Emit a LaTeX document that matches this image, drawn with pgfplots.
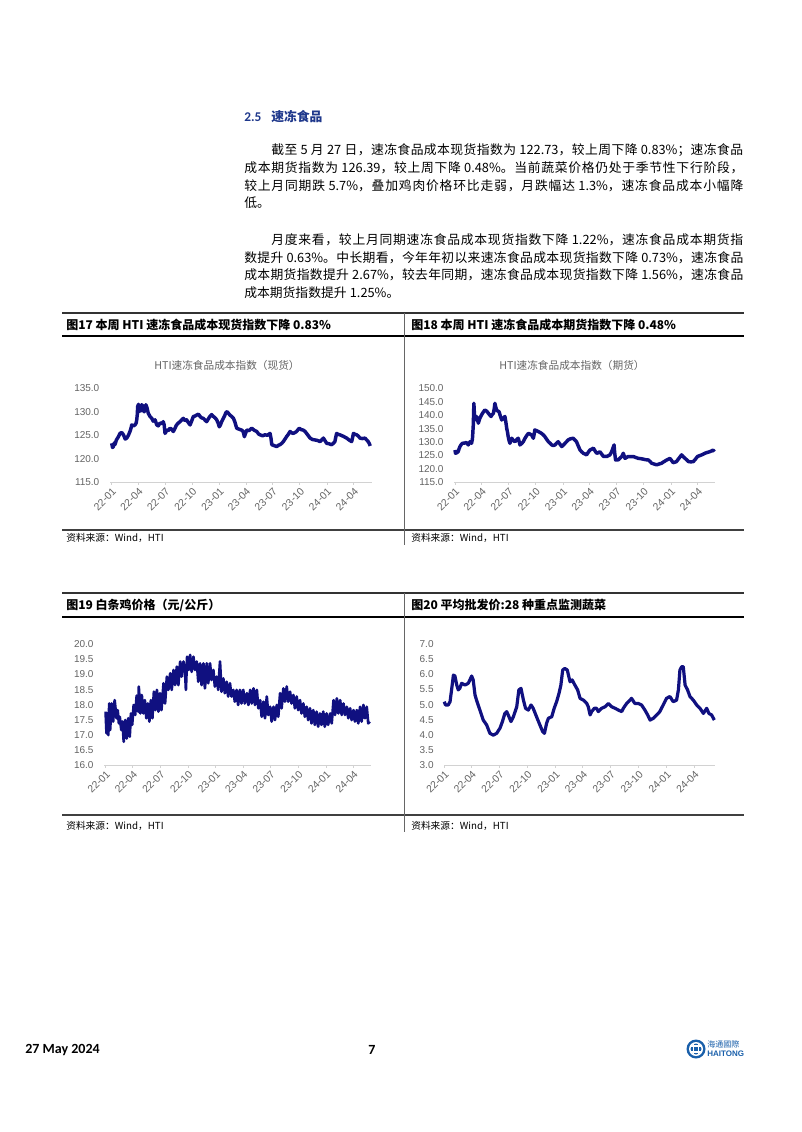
\documentclass[border=0pt]{standalone}
\usepackage{fontspec}
\usepackage{pgfplots}
\pgfplotsset{compat=1.18}
\setmainfont{Carlito}
\newfontfamily\cjk{Noto Sans CJK SC}
\newfontfamily\ticksf{Liberation Sans}
\newcount\cc
\cc="4E00
\loop \XeTeXcharclass\cc=1 \advance\cc 1 \ifnum\cc<"A000 \repeat
\XeTeXcharclass"FF0C=3 \XeTeXcharclass"3002=3 \XeTeXcharclass"FF1B=3
\XeTeXcharclass"FF1A=3 \XeTeXcharclass"FF09=3 \XeTeXcharclass"3001=3
\XeTeXcharclass"FF08=2
\XeTeXinterchartokenstate=1
\XeTeXinterchartoks 1 1 = {\hskip0pt plus 0.1em\relax}
\XeTeXinterchartoks 1 3 = {\hskip0pt plus 0.1em\relax}
\XeTeXinterchartoks 3 1 = {\hskip0pt plus 0.1em\relax}
\XeTeXinterchartoks 1 2 = {\hskip0pt plus 0.1em\relax}
\XeTeXinterchartoks 2 1 = {\hskip0pt plus 0.1em\relax}
\definecolor{navy}{RGB}{16,16,128}
\definecolor{tickgray}{RGB}{100,100,100}
\definecolor{axgray}{RGB}{210,210,210}
\definecolor{headblue}{RGB}{31,56,140}
\definecolor{logoblue}{RGB}{25,95,170}
\pgfplotsset{
  htiaxis/.style={
    scale only axis,
    axis lines*=left,
    y axis line style={draw=none},
    x axis line style={draw=axgray, line width=0.7pt},
    ytick style={draw=none},
    xtick style={draw=axgray, line width=0.5pt},
    tick align=outside,
    major tick length=2pt,
    xtick={0,90,181,273,365,455,546,638,730,821},
    xticklabels={22-01,22-04,22-07,22-10,23-01,23-04,23-07,23-10,24-01,24-04},
    x tick label style={rotate=45, anchor=north east, font=\ticksf\fontsize{7.8}{9}\selectfont, text=tickgray, inner sep=1pt},
    y tick label style={font=\ticksf\fontsize{7.5}{9}\selectfont, text=tickgray, xshift=-2.5pt},
    yticklabel={\pgfmathprintnumber[fixed, fixed zerofill, precision=1, assume math mode=true]{\tick}},
    clip=false,
  }
}
\newcommand\bodyfont{\cjk\fontsize{9.6}{12}\selectfont\spaceskip=0.25em plus 0.02em\relax}
\begin{document}
\begin{tikzpicture}
\begin{scope}[x=0.75pt,y=-0.75pt]
\fill[white] (0,0) rectangle (802,1132);
\path[use as bounding box] (0,0) rectangle (802,1132);
% heading
\node[anchor=west, text=headblue, inner sep=0pt] at (244,117) {\bfseries\fontsize{10}{12}\selectfont 2.5};
\node[anchor=west, text=headblue, inner sep=0pt] at (271,117) {\cjk\bfseries\fontsize{9.6}{12}\selectfont 速冻食品};
% paragraph 1
\node[anchor=west, inner sep=0pt] at (271,150) {\hbox to 354pt{\bodyfont 截至 5 月 27 日，速冻食品成本现货指数为 122.73，较上周下降 0.83\%；速冻食品}};
\node[anchor=west, inner sep=0pt] at (244,168) {\hbox to 374.3pt{\bodyfont 成本期货指数为 126.39，较上周下降 0.48\%。当前蔬菜价格仍处于季节性下行阶段，}};
\node[anchor=west, inner sep=0pt] at (244,186) {\hbox to 374.3pt{\bodyfont 较上月同期跌 5.7\%，叠加鸡肉价格环比走弱，月跌幅达 1.3\%，速冻食品成本小幅降}};
\node[anchor=west, inner sep=0pt] at (244,203) {\bodyfont 低。};
% paragraph 2
\node[anchor=west, inner sep=0pt] at (271,240) {\hbox to 354pt{\bodyfont 月度来看，较上月同期速冻食品成本现货指数下降 1.22\%，速冻食品成本期货指}};
\node[anchor=west, inner sep=0pt] at (244,258) {\hbox to 374.3pt{\bodyfont 数提升 0.63\%。中长期看，今年年初以来速冻食品成本现货指数下降 0.73\%，速冻食品}};
\node[anchor=west, inner sep=0pt] at (244,275) {\hbox to 374.3pt{\bodyfont 成本期货指数提升 2.67\%，较去年同期，速冻食品成本现货指数下降 1.56\%，速冻食品}};
\node[anchor=west, inner sep=0pt] at (244,293) {\bodyfont 成本期货指数提升 1.25\%。};
% frames row 1
\draw[line width=1.1pt, black!80] (62,313) -- (744,313);
\draw[line width=1.1pt, black] (62,336) -- (744,336);
\draw[line width=0.8pt, black!75] (62,530) -- (744,530);
\draw[line width=0.5pt, black!60] (404.5,313) -- (404.5,545);
% frames row 2
\draw[line width=1.1pt, black!80] (62,593) -- (744,593);
\draw[line width=1.1pt, black] (62,617) -- (744,617);
\draw[line width=0.8pt, black!75] (62,815) -- (744,815);
\draw[line width=0.5pt, black!60] (404.5,593) -- (404.5,832);
% box titles
\node[anchor=west, inner sep=0pt] at (66,325) {\cjk\bfseries\fontsize{9}{11}\selectfont 图17 本周 HTI 速冻食品成本现货指数下降 0.83\%};
\node[anchor=west, inner sep=0pt] at (411,325) {\cjk\bfseries\fontsize{9}{11}\selectfont 图18 本周 HTI 速冻食品成本期货指数下降 0.48\%};
\node[anchor=west, inner sep=0pt] at (66,605) {\cjk\bfseries\fontsize{9}{11}\selectfont 图19 白条鸡价格（元/公斤）};
\node[anchor=west, inner sep=0pt] at (411,605) {\cjk\bfseries\fontsize{9}{11}\selectfont 图20 平均批发价:28 种重点监测蔬菜};
% chart titles
\node[text=tickgray] at (227,365) {\cjk\fontsize{8}{10}\selectfont HTI速冻食品成本指数（现货）};
\node[text=tickgray] at (572,365) {\cjk\fontsize{8}{10}\selectfont HTI速冻食品成本指数（期货）};
% sources
\node[anchor=west, inner sep=0pt] at (66,538) {\cjk\fontsize{7.3}{9}\selectfont 资料来源：Wind，HTI};
\node[anchor=west, inner sep=0pt] at (411,538) {\cjk\fontsize{7.3}{9}\selectfont 资料来源：Wind，HTI};
\node[anchor=west, inner sep=0pt] at (66,826) {\cjk\fontsize{7.3}{9}\selectfont 资料来源：Wind，HTI};
\node[anchor=west, inner sep=0pt] at (411,826) {\cjk\fontsize{7.3}{9}\selectfont 资料来源：Wind，HTI};
% footer
\node[anchor=west, inner sep=0pt] at (25,1050) {\bfseries\fontsize{10.5}{12}\selectfont 27 May 2024};
\node[anchor=west, inner sep=0pt] at (368,1050) {\bfseries\fontsize{10.5}{12}\selectfont 7};
\fill[logoblue] (696,1049) circle (9.5);
\fill[white] (696,1049) circle (7);
\fill[logoblue] (696,1049) circle (5.5);
\draw[white, line width=1pt] (690,1046) -- (702,1046) (690,1052) -- (702,1052) (693.5,1043) -- (693.5,1055) (698.5,1043) -- (698.5,1055);
\node[anchor=west, inner sep=0pt, text=logoblue] at (707,1044) {\cjk\fontsize{6}{7}\selectfont 海通國際};
\node[anchor=west, inner sep=0pt, text=logoblue] at (707,1054) {\ticksf\bfseries\fontsize{6}{7}\selectfont HAITONG};
\end{scope}

% Chart 17
\begin{axis}[htiaxis, at={(82.5pt,-361.7pt)}, anchor=south west, width=196.3pt, height=70.5pt,
  xmin=-5.7, xmax=882, ymin=115, ymax=135, ytick={115,120,125,130,135}]
\addplot[navy, line width=2.6pt, line join=round] coordinates {
(0,123.3)(3,122.4)(6,122.6)(9,123.4)(11,123.0)(16,124.0)(23,124.7)(28,125.4)(34,125.6)(40,125.1)(46,124.2)(51,124.4)(56,124.9)(62,125.8)(66,126.6)(68,127.2)(74,127.0)(79,127.2)(83,127.6)(85,128.3)(87,129.5)(88,131.1)(91,131.6)(93,130.0)(96,130.4)(99,130.2)(102,131.5)(105,131.3)(107,130.4)(110,130.0)(113,130.3)(116,131.5)(120,130.8)(124,129.7)(130,129.0)(136,128.6)(141,128.0)(147,128.3)(153,127.2)(158,127.0)(164,127.6)(170,127.5)(175,127.9)(178,127.2)(181,125.4)(184,125.7)(187,126.1)(192,126.0)(198,126.5)(203,126.3)(209,125.8)(214,126.4)(220,127.2)(226,127.6)(232,127.9)(238,128.3)(243,128.6)(249,128.1)(254,128.3)(260,127.7)(266,127.2)(271,128.0)(277,129.0)(283,129.1)(288,129.3)(294,129.5)(300,129.0)(305,128.7)(311,128.6)(317,128.2)(322,127.9)(327,128.4)(333,129.0)(339,129.4)(345,129.0)(351,128.7)(356,128.3)(361,127.6)(365,126.8)(369,127.2)(373,127.9)(378,128.5)(384,129.3)(388,129.9)(392,130.0)(397,129.6)(401,129.3)(407,129.0)(413,128.6)(418,127.8)(424,126.5)(432,126.3)(441,126.1)(446,125.8)(450,124.7)(454,125.4)(458,126.1)(466,126.0)(475,126.5)(483,126.1)(492,125.8)(498,125.3)(503,125.1)(512,124.9)(520,125.1)(528,125.0)(537,125.4)(540,124.5)(543,123.0)(551,122.8)(560,122.6)(566,122.9)(571,123.0)(577,123.3)(582,123.65)(588,124.2)(593,124.7)(599,125.2)(605,125.8)(611,125.5)(616,125.4)(622,125.6)(627,125.8)(632,126.2)(636,126.5)(643,126.2)(650,126.1)(656,125.8)(661,125.4)(667,124.9)(673,124.4)(681,124.1)(690,124.0)(698,123.9)(707,123.65)(712,124.0)(718,124.4)(724,123.8)(729,123.3)(737,123.2)(746,123.0)(752,123.3)(757,123.65)(760,124.6)(763,125.4)(768,125.2)(774,125.1)(785,124.8)(797,124.4)(805,124.0)(814,123.65)(817,124.5)(820,125.4)(826,125.2)(831,125.1)(837,124.8)(842,124.4)(850,124.3)(859,124.4)(865,124.0)(870,123.65)(874,123.2)(877,122.73)
};
\end{axis}

% Chart 18
\begin{axis}[htiaxis, at={(340.7pt,-361.7pt)}, anchor=south west, width=195.5pt, height=70.5pt,
  xmin=-2.3, xmax=879, ymin=115, ymax=150, ytick={115,120,125,130,135,140,145,150}]
\addplot[navy, line width=2.6pt, line join=round] coordinates {
(0,127.0)(2,125.8)(6,126.0)(11,126.4)(14,127.5)(17,128.3)(21,129.0)(25,129.5)(32,129.6)(39,129.8)(45,128.9)(51,130.1)(56,129.5)(59,131.0)(60,132.6)(62,136.3)(64,144.4)(66,140.0)(68,138.2)(71,138.8)(73,139.5)(76,138.5)(79,137.0)(84,138.8)(90,140.1)(95,141.0)(101,141.9)(107,141.5)(113,140.7)(118,140.0)(122,139.5)(126,140.2)(130,140.7)(133,142.5)(135,144.4)(138,143.0)(141,141.9)(145,141.5)(149,141.3)(154,139.5)(158,138.2)(163,138.8)(169,139.5)(172,137.5)(175,135.1)(178,133.5)(180,132.0)(183,130.5)(186,129.5)(189,130.5)(192,131.4)(197,130.6)(203,130.1)(208,130.8)(214,131.4)(217,130.2)(220,128.9)(226,129.5)(231,130.1)(234,130.8)(237,131.4)(242,132.3)(248,133.2)(253,133.0)(259,132.6)(262,132.0)(265,131.4)(268,133.0)(270,134.5)(276,134.2)(282,133.9)(288,133.5)(293,133.2)(299,132.6)(304,132.0)(310,131.0)(316,130.1)(322,129.5)(327,128.9)(333,128.7)(338,128.9)(344,129.6)(349,130.1)(355,129.2)(361,128.3)(366,128.8)(372,129.5)(378,130.2)(383,130.8)(391,131.2)(400,131.4)(405,130.8)(411,130.1)(417,128.5)(423,127.0)(429,126.3)(434,125.8)(440,125.5)(445,125.2)(451,126.2)(456,127.0)(462,127.3)(468,127.7)(473,126.8)(479,125.8)(485,126.0)(490,126.4)(496,125.5)(502,124.6)(508,124.7)(513,124.6)(519,124.9)(524,125.2)(528,126.0)(532,127.0)(535,128.0)(538,128.9)(540,126.0)(543,123.3)(548,123.4)(552,123.3)(558,124.0)(564,124.6)(567,125.3)(569,125.8)(572,124.9)(575,123.9)(581,124.3)(586,124.6)(595,124.5)(603,124.6)(612,124.2)(620,123.9)(628,123.8)(637,123.6)(645,123.4)(654,123.3)(660,122.7)(665,122.1)(673,121.8)(682,121.5)(690,121.8)(699,122.1)(707,122.7)(716,123.3)(722,123.6)(727,123.9)(733,123.0)(738,122.3)(744,122.5)(749,122.7)(755,123.6)(762,124.6)(766,125.2)(772,124.5)(778,123.9)(784,123.3)(789,122.7)(798,122.6)(806,122.7)(813,123.6)(820,124.6)(827,124.9)(834,125.2)(840,125.5)(845,125.8)(853,126.1)(862,126.4)(868,126.7)(873,127.0)(877,126.39)
};
\end{axis}

% Chart 19
\begin{axis}[htiaxis, at={(78.2pt,-573.75pt)}, anchor=south west, width=199.8pt, height=90.5pt,
  xmin=-4.4, xmax=878, ymin=16, ymax=20, ytick={16,16.5,17,17.5,18,18.5,19,19.5,20}]
\addplot[navy, line width=2pt, line join=round] coordinates {
(0,17.77)(3,17.05)(6,17.71)(9,16.99)(12,18.04)(15,17.16)(20,18.04)(25,17.44)(30,18.15)(36,17.55)(40,17.82)(44,17.38)(47,17.60)(52,17.16)(56,17.44)(60,16.77)(65,17.49)(70,16.88)(75,17.55)(80,16.94)(84,17.71)(88,17.33)(93,17.99)(98,17.66)(103,18.30)(108,17.77)(110,18.60)(115,17.71)(120,18.32)(125,17.71)(130,18.15)(135,17.55)(140,18.04)(145,17.44)(150,18.15)(155,17.55)(160,18.43)(165,17.82)(170,18.49)(175,17.77)(180,18.38)(185,17.82)(192,18.71)(197,18.04)(203,18.93)(208,18.49)(214,19.04)(219,18.49)(225,19.15)(230,18.65)(236,19.26)(241,18.65)(247,19.43)(252,18.93)(258,19.43)(263,19.15)(266,18.49)(270,19.59)(275,19.15)(280,19.65)(285,19.09)(291,19.59)(296,19.15)(302,19.43)(307,18.76)(313,19.37)(318,18.65)(324,19.37)(329,18.54)(335,19.37)(340,18.71)(346,19.37)(351,18.82)(357,19.15)(362,18.60)(368,18.93)(373,18.49)(379,19.43)(384,18.43)(390,18.87)(395,18.38)(401,18.76)(406,18.27)(412,18.71)(417,18.27)(423,18.49)(428,18.10)(434,18.49)(439,17.99)(445,18.49)(450,18.04)(456,18.49)(461,18.04)(468,18.38)(473,17.99)(479,18.49)(484,18.04)(490,18.54)(495,17.99)(501,18.49)(506,17.88)(512,18.15)(517,17.60)(523,18.10)(528,17.55)(534,18.27)(539,17.66)(545,17.93)(550,17.44)(556,17.93)(561,17.49)(567,17.99)(572,17.60)(578,18.38)(583,17.88)(589,18.54)(594,18.10)(600,18.60)(605,18.10)(611,18.43)(616,18.04)(622,18.32)(627,17.88)(633,18.27)(638,17.82)(644,18.15)(649,17.71)(655,18.04)(660,17.60)(666,17.93)(671,17.49)(677,17.88)(682,17.38)(688,17.82)(693,17.33)(699,17.77)(704,17.27)(710,17.71)(715,17.33)(721,17.77)(726,17.27)(732,17.71)(737,17.33)(744,17.71)(749,17.38)(755,18.15)(760,17.66)(766,18.21)(771,17.71)(777,18.15)(782,17.66)(788,18.04)(793,17.66)(799,17.93)(804,17.55)(810,17.88)(815,17.49)(821,17.82)(826,17.44)(832,17.82)(837,17.38)(843,17.93)(848,17.44)(854,17.99)(859,17.55)(865,17.93)(870,17.38)(875,17.44)
};
\end{axis}

% Chart 20
\begin{axis}[htiaxis, at={(333.2pt,-573.75pt)}, anchor=south west, width=203pt, height=90.5pt,
  xmin=0, xmax=889, ymin=3, ymax=7, ytick={3,3.5,4,4.5,5,5.5,6,6.5,7}]
\addplot[navy, line width=2.4pt, line join=round] coordinates {
(0,5.10)(4,4.99)(13,4.99)(19,5.10)(24,5.49)(30,5.98)(35,5.95)(41,5.65)(46,5.49)(51,5.54)(57,5.71)(68,5.65)(79,5.71)(84,5.82)(90,5.95)(95,5.82)(101,5.32)(106,5.15)(117,4.82)(128,4.49)(139,4.33)(150,4.05)(161,3.99)(172,4.05)(183,4.22)(191,4.44)(199,4.71)(205,4.77)(210,4.66)(219,4.44)(227,4.60)(238,4.93)(245,5.49)(252,5.54)(260,5.15)(267,4.88)(276,4.82)(285,4.99)(292,4.88)(303,4.60)(314,4.33)(323,4.11)(329,4.05)(336,4.38)(342,4.55)(353,4.60)(361,4.88)(369,5.10)(377,5.38)(383,5.65)(389,6.15)(396,6.20)(404,6.15)(413,5.76)(420,5.82)(429,5.65)(438,5.49)(446,5.21)(457,5.15)(468,5.04)(473,4.93)(479,4.66)(484,4.77)(493,4.88)(500,4.88)(506,4.77)(517,4.88)(528,4.93)(539,5.04)(550,4.93)(561,4.88)(572,4.82)(583,4.77)(588,4.88)(599,5.04)(610,5.15)(615,5.21)(626,5.04)(637,5.04)(648,4.99)(659,4.82)(668,4.66)(676,4.49)(687,4.55)(698,4.66)(708,4.77)(719,4.99)(730,5.21)(741,5.27)(752,5.10)(763,5.15)(769,5.49)(774,6.15)(780,6.26)(785,6.26)(791,5.65)(799,5.49)(807,5.27)(818,5.15)(829,4.99)(840,4.88)(851,4.71)(862,4.88)(869,4.71)(878,4.66)(887,4.49)
};
\end{axis}
\end{tikzpicture}
\end{document}
